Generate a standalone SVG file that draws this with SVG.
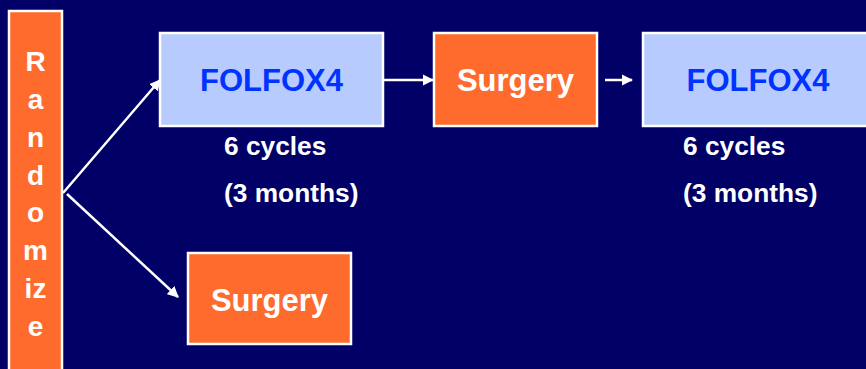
<svg xmlns="http://www.w3.org/2000/svg" width="866" height="369" viewBox="0 0 866 369">
<style>
.org{fill:#FF6A2D;stroke:#FFFFFF;stroke-width:2.5}
.blu{fill:#B8CBFF;stroke:#FFFFFF;stroke-width:2.5}
.t{font-family:"Liberation Sans",Arial,sans-serif;font-weight:bold}
.w{fill:#FFFFFF}
.b{fill:#0033FF}
.c{stroke:#FFFFFF;stroke-width:2.5;fill:none;marker-end:url(#ah)}
</style>
<defs>
<marker id="ah" viewBox="0 0 10 10" refX="9" refY="5" markerWidth="4.5" markerHeight="4.5" orient="auto" markerUnits="strokeWidth">
<path d="M0,0 L10,5 L0,10 Z" fill="#FFFFFF"/>
</marker>
</defs>
<rect width="866" height="369" fill="#000066"/>
<g id="randomize">
<rect class="org" x="9" y="11" width="53" height="370"/>
<g class="t w" font-size="28" text-anchor="middle">
<text x="35.5" y="71">R</text>
<text x="35.5" y="109">a</text>
<text x="35.5" y="147">n</text>
<text x="35.5" y="185">d</text>
<text x="35.5" y="222">o</text>
<text x="35.5" y="260">m</text>
<text x="35.5" y="298">iz</text>
<text x="35.5" y="336">e</text>
</g>
</g>
<g id="folfox1">
<rect class="blu" x="160" y="33" width="223" height="93"/>
<text class="t b" x="271.5" y="91" font-size="31" text-anchor="middle">FOLFOX4</text>
<text class="t w" x="224" y="155" font-size="26.3">6 cycles</text>
<text class="t w" x="224" y="202" font-size="26.3">(3 months)</text>
</g>
<g id="surgery1">
<rect class="org" x="434" y="33" width="163" height="93"/>
<text class="t w" x="515.5" y="91" font-size="31" text-anchor="middle">Surgery</text>
</g>
<g id="folfox2">
<rect class="blu" x="643" y="33" width="240" height="93"/>
<text class="t b" x="758" y="91" font-size="31" text-anchor="middle">FOLFOX4</text>
<text class="t w" x="683" y="155" font-size="26.3">6 cycles</text>
<text class="t w" x="683" y="202" font-size="26.3">(3 months)</text>
</g>
<g id="surgery2">
<rect class="org" x="188" y="253" width="163" height="91"/>
<text class="t w" x="269.5" y="311" font-size="31" text-anchor="middle">Surgery</text>
</g>
<g id="connectors">
<line class="c" x1="63" y1="193" x2="160" y2="80"/>
<line class="c" x1="67" y1="194" x2="178" y2="297"/>
<line class="c" x1="384" y1="80" x2="433" y2="80"/>
<line class="c" x1="605" y1="80" x2="632" y2="80"/>
</g>
</svg>
